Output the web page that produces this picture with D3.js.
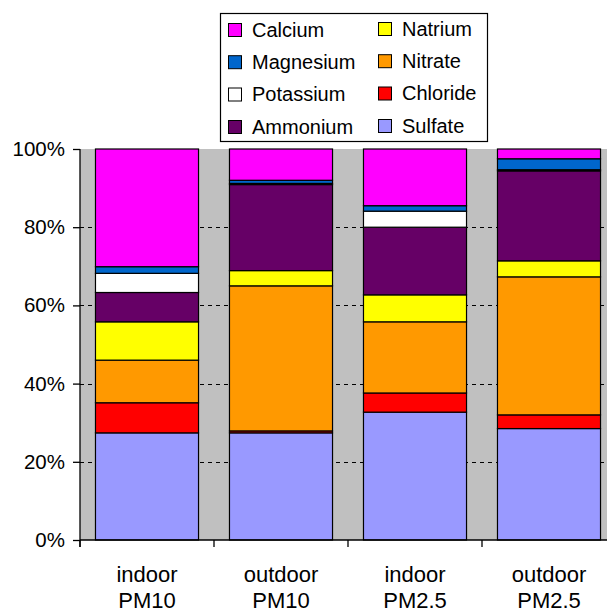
<!DOCTYPE html>
<html><head><meta charset="utf-8">
<script src="https://cdn.jsdelivr.net/npm/d3@7"></script>
<style>body{margin:0;background:#fff}svg{display:block}text{font-family:"Liberation Sans",Arial,sans-serif;fill:#000}</style>
</head><body>
<script>
const categories = ["indoor PM10", "outdoor PM10", "indoor PM2.5", "outdoor PM2.5"];
const components = ["Sulfate", "Chloride", "Nitrate", "Natrium", "Ammonium", "Potassium", "Magnesium", "Calcium"];
const colors = ["#9999FF", "#FF0000", "#FF9900", "#FFFF00", "#660066", "#FFFFFF", "#0066CC", "#FF00FF"];
const Sulfate   = [27.4, 27.4, 32.7, 28.5];
const Chloride  = [7.7, 0.5, 4.9, 3.5];
const Nitrate   = [10.9, 37.1, 18.2, 35.3];
const Natrium   = [9.8, 3.9, 6.9, 4.1];
const Ammonium  = [7.5, 22.0, 17.3, 23.0];
const Potassium = [4.9, 0.3, 4.1, 0.3];
const Magnesium = [1.7, 0.8, 1.4, 2.8];
const Calcium   = [30.1, 8.0, 14.5, 2.5];
const yTicks = [0, 20, 40, 60, 80, 100];
const legendOrder = [["Calcium","Magnesium","Potassium","Ammonium"],["Natrium","Nitrate","Chloride","Sulfate"]];

const series = {Sulfate, Chloride, Nitrate, Natrium, Ammonium, Potassium, Magnesium, Calcium};
const rows = categories.map((c, i) => {
  const r = {cat: c};
  components.forEach(k => r[k] = series[k][i]);
  return r;
});
const color = d3.scaleOrdinal().domain(components).range(colors);

const W = 607, H = 612;
const mLeft = 80, mTop = 149, mBottom = 540;
const svg = d3.select("body").append("svg").attr("width", W).attr("height", H);

const x = d3.scaleBand().domain(categories).range([mLeft, mLeft + 4 * 134]).paddingInner(0.231).paddingOuter(0.1155);
const y = d3.scaleLinear().domain([0, 100]).range([mBottom, mTop]);

// plot background
svg.append("rect").attr("x", mLeft).attr("y", mTop).attr("width", W - mLeft).attr("height", mBottom - mTop).attr("fill", "#C0C0C0");

// gridlines
svg.append("g").selectAll("line").data(yTicks.filter(t => t > 0 && t < 100)).join("line")
  .attr("x1", mLeft).attr("x2", W).attr("y1", d => Math.round(y(d)) + 0.5).attr("y2", d => Math.round(y(d)) + 0.5)
  .attr("stroke", "#000").attr("stroke-width", 1).attr("stroke-dasharray", "4,4");

// bars
const stack = d3.stack().keys(components)(rows);
svg.append("g").selectAll("g").data(stack).join("g")
  .attr("fill", d => color(d.key))
  .selectAll("rect").data(d => d).join("rect")
  .attr("x", d => x(d.data.cat))
  .attr("width", x.bandwidth())
  .attr("y", d => y(d[1]))
  .attr("height", d => y(d[0]) - y(d[1]))
  .attr("stroke", "#000").attr("stroke-width", 1.2);

// y axis
const yAxis = d3.axisLeft(y).tickValues(yTicks).tickFormat(d => d + "%").tickSize(7).tickPadding(8);
const gy = svg.append("g").attr("transform", `translate(${mLeft},0)`).call(yAxis);
gy.select(".domain").attr("stroke", "#000").attr("stroke-width", 1.3).attr("d", `M0,${mTop}V${mBottom + 7}`);
gy.selectAll(".tick line").attr("stroke", "#000").attr("stroke-width", 1.3);
gy.selectAll("text").style("font-size", "20.5px").style("font-family", '"Liberation Sans",Arial,sans-serif').attr("fill", "#000");

// x axis
const gx = svg.append("g");
gx.append("line").attr("x1", mLeft).attr("x2", W).attr("y1", mBottom).attr("y2", mBottom).attr("stroke", "#000").attr("stroke-width", 1.3);
gx.selectAll("line.t").data(categories).join("line").attr("class", "t")
  .attr("x1", d => x(d) - x.step() * x.paddingOuter()).attr("x2", d => x(d) - x.step() * x.paddingOuter())
  .attr("y1", mBottom).attr("y2", mBottom + 7).attr("stroke", "#000").attr("stroke-width", 1.3);
const lbl = gx.selectAll("text").data(categories).join("text")
  .attr("text-anchor", "middle").style("font-size", "22px");
lbl.append("tspan").attr("x", d => x(d) + x.bandwidth() / 2).attr("y", 582).text(d => d.split(" ")[0]);
lbl.append("tspan").attr("x", d => x(d) + x.bandwidth() / 2).attr("y", 608).text(d => d.split(" ")[1]);

// legend
const lg = svg.append("g");
lg.append("rect").attr("x", 220.5).attr("y", 13.5).attr("width", 267).attr("height", 128).attr("fill", "#fff").attr("stroke", "#000").attr("stroke-width", 1.2);
const colX = [228, 378], rowY = [29.5, 61.7, 94, 126.5];
legendOrder.forEach((col, ci) => {
  col.forEach((name, ri) => {
    const cy = rowY[ri] - ci;
    lg.append("rect").attr("x", colX[ci] + 0.5).attr("y", cy - 6).attr("width", 13).attr("height", 13)
      .attr("fill", color(name)).attr("stroke", "#000").attr("stroke-width", 1);
    lg.append("text").attr("x", colX[ci] + 24).attr("y", cy + 7).style("font-size", "20px").text(name);
  });
});
</script>
</body></html>
